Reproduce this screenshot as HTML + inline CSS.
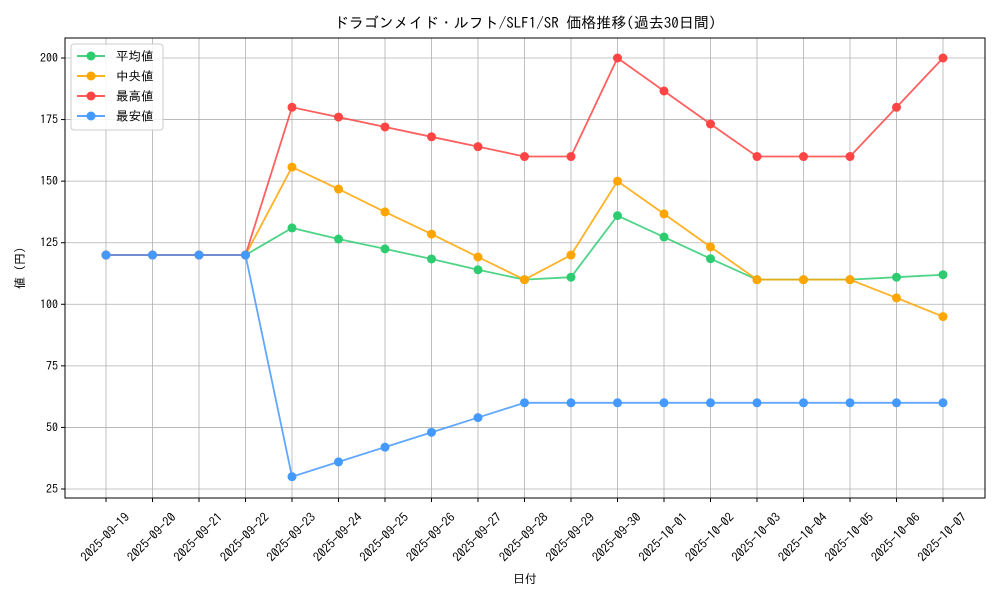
<!DOCTYPE html>
<html><head><meta charset="utf-8"><style>
body{margin:0;background:#fff;}
svg text{font-family:"IPAGothic","Noto Sans CJK JP",sans-serif;fill:#000;}
</style></head><body>
<svg id="chart" width="1000" height="600" xmlns="http://www.w3.org/2000/svg">
<rect width="1000" height="600" fill="#fff"/>
<text x="525" y="28" font-size="15" text-anchor="middle">ドラゴンメイド・ルフト/SLF1/SR 価格推移(過去30日間)</text>
<g id="grid"></g><g id="axes"></g><g id="series"></g>
<text x="525" y="583" font-size="12" text-anchor="middle">日付</text>
<text transform="translate(24,268) rotate(-90)" font-size="12" text-anchor="middle">値 (円)</text>
<g id="legend"></g>
</svg>
<script>
const dates=["2025-09-19","2025-09-20","2025-09-21","2025-09-22","2025-09-23","2025-09-24","2025-09-25","2025-09-26","2025-09-27","2025-09-28","2025-09-29","2025-09-30","2025-10-01","2025-10-02","2025-10-03","2025-10-04","2025-10-05","2025-10-06","2025-10-07"];
const meanVals=[120,120,120,120,131,126.5,122.5,118.4,114,110,111,136,127.3,118.5,110,110,110,111,112];
const medianVals=[120,120,120,120,155.7,146.8,137.5,128.5,119.2,110,120,150,136.7,123.3,110,110,110,102.6,95];
const maxVals=[120,120,120,120,180,176,172,168,164,160,160,200,186.6,173.2,160,160,160,180,200];
const minVals=[120,120,120,120,30,36,42,48,54,60,60,60,60,60,60,60,60,60,60];
const yTicks=[25,50,75,100,125,150,175,200];
const seriesNames=["平均値","中央値","最高値","最安値"];
const NS="http://www.w3.org/2000/svg";
const L=65,R=985,T=38,B=498;
function xs(i){return 106+i*(943-106)/(dates.length-1);}
function ys(v){return 58+(200-v)*(489-58)/175;}
function mk(t,a,p){const e=document.createElementNS(NS,t);for(const k in a)e.setAttribute(k,a[k]);p.appendChild(e);return e;}
const grid=document.getElementById('grid'),axes=document.getElementById('axes'),ser=document.getElementById('series'),leg=document.getElementById('legend');
dates.forEach((d,i)=>{
 const g=mk('line',{x1:xs(i),x2:xs(i),y1:T,y2:B,stroke:'#b0b0b0','stroke-width':0.8},grid);
 
 mk('line',{x1:xs(i),x2:xs(i),y1:B,y2:B+4,stroke:'#000'},axes);
 const t=mk('text',{x:0,y:4.5,'font-size':12.5,'text-anchor':'middle',transform:`translate(${xs(i)-1},${537}) rotate(-45)`},axes);
 t.textContent=d;
});
yTicks.forEach(v=>{
 const g=mk('line',{x1:L,x2:R,y1:ys(v),y2:ys(v),stroke:'#b0b0b0','stroke-width':0.8},grid);
 
 mk('line',{x1:L-4,x2:L,y1:ys(v),y2:ys(v),stroke:'#000'},axes);
 const t=mk('text',{x:L-7,y:ys(v)+4,'font-size':12,'text-anchor':'end'},axes);
 t.textContent=v;
});
const fr=mk('rect',{x:L,y:T,width:R-L,height:B-T,fill:'none',stroke:'#000','stroke-width':1},axes);

const all=[meanVals,medianVals,maxVals,minVals],cols=['#2ecc71','#ffa500','#ff4444','#4499ff'],names=['mean','median','max','min'];
all.forEach((vals,s)=>{
 const g=mk('g',{},ser);
 const p=mk('polyline',{points:vals.map((v,i)=>xs(i)+','+ys(v)).join(' '),fill:'none',stroke:cols[s],'stroke-width':1.8,'stroke-opacity':0.85},g);
 
 vals.forEach((v,i)=>{const c=mk('circle',{cx:xs(i),cy:ys(v),r:4.5,fill:cols[s]},g);
  });
});
const lb=mk('rect',{x:71,y:44,width:92,height:86,fill:'#fff','fill-opacity':0.85,stroke:'#ccc',rx:3},leg);

seriesNames.forEach((n,s)=>{
 const y=56+s*20;
 const g=mk('g',{},leg);
 mk('line',{x1:77,x2:105,y1:y,y2:y,stroke:cols[s],'stroke-width':1.8},g);
 mk('circle',{cx:91,cy:y,r:4.5,fill:cols[s]},g);
 const t=mk('text',{x:116,y:y+4.5,'font-size':12.5},g);t.textContent=n;
});
</script>
</body></html>
